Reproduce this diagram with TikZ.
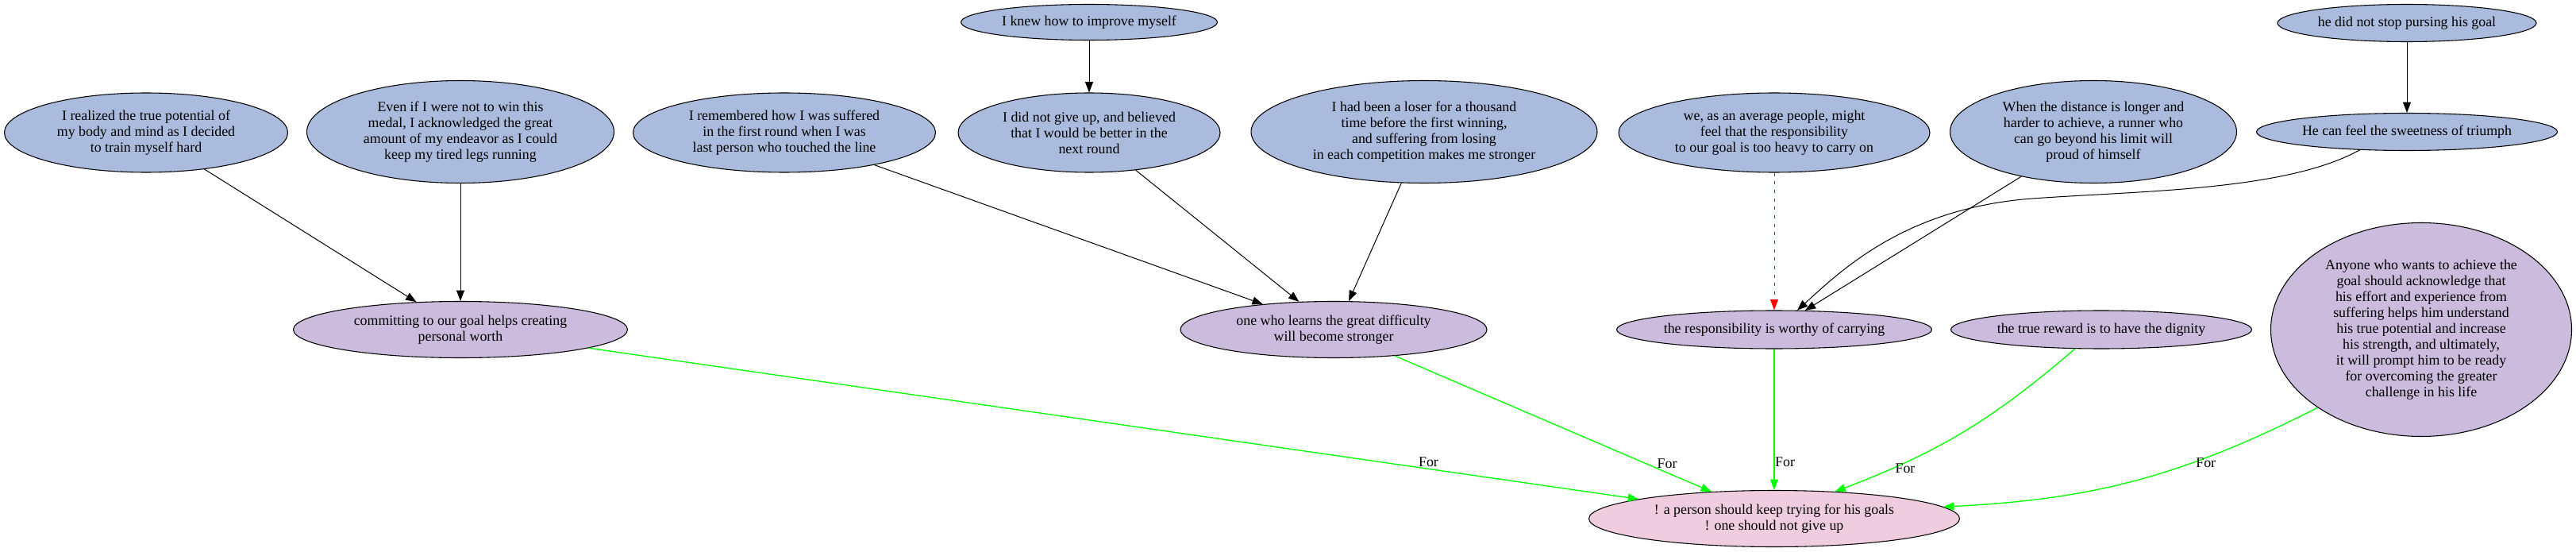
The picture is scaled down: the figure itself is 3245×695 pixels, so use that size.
\documentclass[tikz,border=0pt]{standalone}
\usepackage{fontspec}
\setmainfont{Liberation Serif}
\usetikzlibrary{shapes, arrows.meta}
\definecolor{premisefill}{HTML}{AABBDD}
\definecolor{reasonfill}{HTML}{CBBBDD}
\definecolor{claimfill}{HTML}{EFCDDE}
\definecolor{forgreen}{HTML}{00FF00}

\begin{document}
\begin{tikzpicture}
  [
    x = 0.75pt, y = -0.75pt,  % pixel grid, y grows downwards
    every node/.style = {draw, ellipse, align = center, inner sep = 0pt,
      line width = 0.8pt, font = \fontsize{13.4}{15}\selectfont},
    dims/.style 2 args = {minimum width = #1*0.75pt, minimum height = #2*0.75pt},
    premise/.style = {fill = premisefill},
    reason/.style = {fill = reasonfill},
    claim/.style = {fill = claimfill},
    link/.style = {line width = 0.75pt, -{Triangle[length = 10pt, width = 7.5pt]}},
    forlink/.style = {link, forgreen, line width = 1pt},
    doubt/.style = {link, red, dash pattern = on 3pt off 5pt}
  ]
  \useasboundingbox (0,0) rectangle (3245,695);

  \node [premise, dims = {357}{100}] (P1) at (184,167)
    {I realized the true potential of\\my body and mind as I decided\\to train myself hard};
  \node [premise, dims = {387}{129}] (P2) at (580,166)
    {Even if I were not to win this\\medal, I acknowledged the great\\amount of my endeavor as I could\\keep my tired legs running};
  \node [premise, dims = {381}{100}] (P3) at (988,167)
    {I remembered how I was suffered\\in the first round when I was\\last person who touched the line};
  \node [premise, dims = {323}{45}] (P4) at (1372,28) {I knew how to improve myself};
  \node [premise, dims = {330}{100}] (P5) at (1372,167)
    {I did not give up, and believed\\that I would be better in the\\next round};
  \node [premise, dims = {436}{129}] (P6) at (1794,166)
    {I had been a loser for a thousand\\time before the first winning,\\and suffering from losing\\in each competition makes me stronger};
  \node [premise, dims = {392}{100}] (P7) at (2235,167)
    {we, as an average people, might\\feel that the responsibility\\to our goal is too heavy to carry on};
  \node [premise, dims = {361}{129}] (P8) at (2637,166)
    {When the distance is longer and\\harder to achieve, a runner who\\can go beyond his limit will\\proud of himself};
  \node [premise, dims = {326}{47}] (P9) at (3032,29) {he did not stop pursing his goal};
  \node [premise, dims = {379}{47}] (P10) at (3032,166) {He can feel the sweetness of triumph};

  \node [reason, dims = {421}{71}] (R1) at (580,415)
    {committing to our goal helps creating\\personal worth};
  \node [reason, dims = {386}{71}] (R2) at (1680,415)
    {one who learns the great difficulty\\will become stronger};
  \node [reason, dims = {397}{48}] (R3) at (2235,415) {the responsibility is worthy of carrying};
  \node [reason, dims = {379}{48}] (R4) at (2647,415) {the true reward is to have the dignity};
  \node [reason, dims = {379}{269}] (R5) at (3050,415)
    {Anyone who wants to achieve the\\goal should acknowledge that\\his effort and experience from\\suffering helps him understand\\his true potential and increase\\his strength, and ultimately,\\it will prompt him to be ready\\for overcoming the greater\\challenge in his life};

  \node [claim, dims = {467}{71}] (Goal) at (2235,653)
    {! a person should keep trying for his goals\\! one should not give up};

  \draw [link] (P1) -- (R1);
  \draw [link] (P2) -- (R1);
  \draw [link] (P3) -- (R2);
  \draw [link] (P5) -- (R2);
  \draw [link] (P6) -- (R2.62);
  \draw [link] (P4) -- (P5);
  \draw [link] (P9) -- (P10);
  \draw [doubt] (P7) -- (R3);
  \draw [link] (P8) -- (R3);
  \draw [link] (P10.201) .. controls (2880,240) and (2700,240) .. (2560,250)
    .. controls (2400,262) and (2320,340) .. (R3.40);

  \draw [forlink] (R1) -- (Goal);
  \draw [forlink] (R2) -- (Goal);
  \draw [forlink] (R3) -- (Goal);
  \draw [forlink] (R4.216) to [bend left = 10] (Goal.24);
  \draw [forlink] (R5.217) to [bend left = 12] (Goal.4);

  \begin{scope}[nodes = {draw = none, shape = rectangle}]
    \path (R1) -- (Goal) node [pos = 0.80, above = 1.5pt] {For};
    \path (R2) -- (Goal) node [pos = 0.794, right = 10pt] {For};
    \path (R3) -- (Goal) node [pos = 0.80, right = 0.5pt] {For};
    \path (R4.216) to [bend left = 10] node [pos = 0.8, right = 3.5pt] {For} (Goal.24);
    \path (R5.217) to [bend left = 12] node [pos = 0.3, below = 0pt] {For} (Goal.4);
  \end{scope}
\end{tikzpicture}
\end{document}
